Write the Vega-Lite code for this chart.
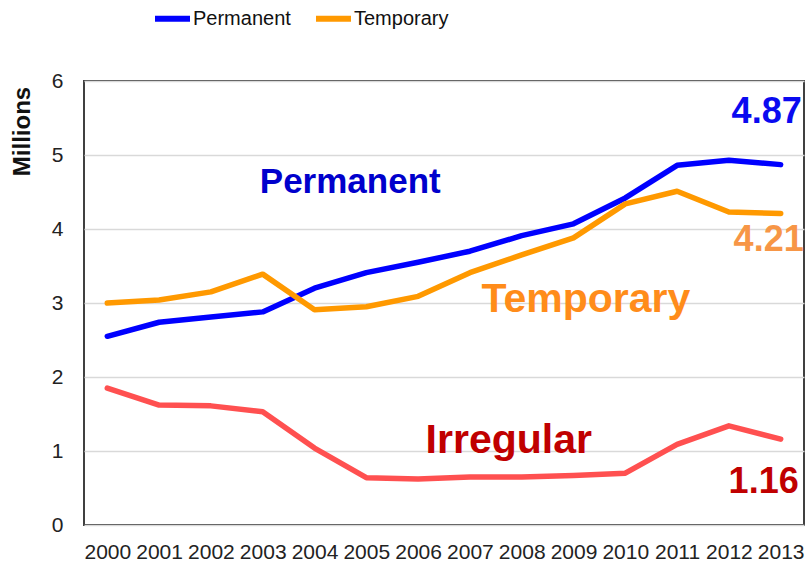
{
  "$schema": "https://vega.github.io/schema/vega-lite/v6.json",
  "width": 720,
  "height": 444,
  "autosize": "none",
  "padding": {"left": 84, "top": 81, "right": 2, "bottom": 39},
  "background": "white",
  "config": {
    "view": {"stroke": "#404040", "strokeWidth": 2},
    "font": "Liberation Sans"
  },
  "datasets": {
    "series": [
      {"year": 2000, "series": "Permanent", "value": 2.55},
      {"year": 2001, "series": "Permanent", "value": 2.74},
      {"year": 2002, "series": "Permanent", "value": 2.81},
      {"year": 2003, "series": "Permanent", "value": 2.88},
      {"year": 2004, "series": "Permanent", "value": 3.2},
      {"year": 2005, "series": "Permanent", "value": 3.41},
      {"year": 2006, "series": "Permanent", "value": 3.55},
      {"year": 2007, "series": "Permanent", "value": 3.7},
      {"year": 2008, "series": "Permanent", "value": 3.91},
      {"year": 2009, "series": "Permanent", "value": 4.07},
      {"year": 2010, "series": "Permanent", "value": 4.42},
      {"year": 2011, "series": "Permanent", "value": 4.86},
      {"year": 2012, "series": "Permanent", "value": 4.93},
      {"year": 2013, "series": "Permanent", "value": 4.87},
      {"year": 2000, "series": "Temporary", "value": 3.0},
      {"year": 2001, "series": "Temporary", "value": 3.04},
      {"year": 2002, "series": "Temporary", "value": 3.15},
      {"year": 2003, "series": "Temporary", "value": 3.39},
      {"year": 2004, "series": "Temporary", "value": 2.91},
      {"year": 2005, "series": "Temporary", "value": 2.95},
      {"year": 2006, "series": "Temporary", "value": 3.09},
      {"year": 2007, "series": "Temporary", "value": 3.41},
      {"year": 2008, "series": "Temporary", "value": 3.65},
      {"year": 2009, "series": "Temporary", "value": 3.88},
      {"year": 2010, "series": "Temporary", "value": 4.34},
      {"year": 2011, "series": "Temporary", "value": 4.51},
      {"year": 2012, "series": "Temporary", "value": 4.23},
      {"year": 2013, "series": "Temporary", "value": 4.21},
      {"year": 2000, "series": "Irregular", "value": 1.85},
      {"year": 2001, "series": "Irregular", "value": 1.62},
      {"year": 2002, "series": "Irregular", "value": 1.61},
      {"year": 2003, "series": "Irregular", "value": 1.53},
      {"year": 2004, "series": "Irregular", "value": 1.04},
      {"year": 2005, "series": "Irregular", "value": 0.64},
      {"year": 2006, "series": "Irregular", "value": 0.62},
      {"year": 2007, "series": "Irregular", "value": 0.65},
      {"year": 2008, "series": "Irregular", "value": 0.65},
      {"year": 2009, "series": "Irregular", "value": 0.67},
      {"year": 2010, "series": "Irregular", "value": 0.7},
      {"year": 2011, "series": "Irregular", "value": 1.09},
      {"year": 2012, "series": "Irregular", "value": 1.34},
      {"year": 2013, "series": "Irregular", "value": 1.16}
    ],
    "notes": [
      {"label": "Permanent", "year": 2004.69, "value": 4.49},
      {"label": "Temporary", "year": 2009.24, "value": 2.88},
      {"label": "Irregular", "year": 2007.75, "value": 0.97}
    ]
  },
  "layer": [
    {
      "data": {"name": "series"},
      "mark": {"type": "line", "strokeWidth": 5.5, "strokeCap": "round", "strokeJoin": "round"},
      "encoding": {
        "x": {
          "field": "year", "type": "quantitative",
          "scale": {"domain": [1999.55, 2013.45], "nice": false, "zero": false},
          "axis": {
            "values": [2000, 2001, 2002, 2003, 2004, 2005, 2006, 2007, 2008, 2009, 2010, 2011, 2012, 2013],
            "format": "d", "grid": false, "domain": false, "ticks": false,
            "labelFontSize": 21, "labelPadding": 16, "labelColor": "#222", "title": null
          }
        },
        "y": {
          "field": "value", "type": "quantitative",
          "scale": {"domain": [0, 6], "nice": false},
          "axis": {
            "values": [0, 1, 2, 3, 4, 5, 6], "format": "d",
            "grid": true, "gridColor": "#d9d9d9", "gridWidth": 1.5,
            "domain": false, "ticks": false,
            "labelFontSize": 21, "labelPadding": 21, "labelColor": "#222",
            "title": "Millions", "titleFontSize": 24, "titleFontWeight": "bold", "titleColor": "#111",
            "titleX": -62, "titleY": 50, "titleAngle": 270, "titleAlign": "center", "titleBaseline": "middle"
          }
        },
        "color": {
          "field": "series", "type": "nominal",
          "scale": {"domain": ["Permanent", "Temporary", "Irregular"], "range": ["#0000FF", "#FF9900", "#FF5050"]},
          "legend": {
            "values": ["Permanent", "Temporary"],
            "orient": "none", "legendX": 68, "legendY": -83,
            "direction": "horizontal", "title": null, "padding": 0,
            "symbolType": "stroke", "symbolSize": 1225, "symbolStrokeWidth": 6,
            "labelFontSize": 20, "labelOffset": 0, "columnPadding": 13, "labelColor": "#111"
          }
        }
      }
    },
    {
      "data": {"name": "notes"},
      "transform": [{"filter": "datum.label === 'Permanent'"}],
      "mark": {"type": "text", "fontSize": 35, "fontWeight": "bold", "color": "#0000CC", "align": "center", "baseline": "alphabetic"},
      "encoding": {
        "x": {"field": "year", "type": "quantitative"},
        "y": {"field": "value", "type": "quantitative"},
        "text": {"field": "label"}
      }
    },
    {
      "data": {"name": "notes"},
      "transform": [{"filter": "datum.label === 'Temporary'"}],
      "mark": {"type": "text", "fontSize": 41, "fontWeight": "bold", "color": "#FF8C1A", "align": "center", "baseline": "alphabetic"},
      "encoding": {
        "x": {"field": "year", "type": "quantitative"},
        "y": {"field": "value", "type": "quantitative"},
        "text": {"field": "label"}
      }
    },
    {
      "data": {"name": "notes"},
      "transform": [{"filter": "datum.label === 'Irregular'"}],
      "mark": {"type": "text", "fontSize": 41, "fontWeight": "bold", "color": "#C00000", "align": "center", "baseline": "alphabetic"},
      "encoding": {
        "x": {"field": "year", "type": "quantitative"},
        "y": {"field": "value", "type": "quantitative"},
        "text": {"field": "label"}
      }
    },
    {
      "data": {"name": "series"},
      "transform": [{"filter": "datum.year === 2013 && datum.series === 'Permanent'"}],
      "mark": {"type": "text", "fontSize": 36, "fontWeight": "bold", "color": "#0A0AF0", "align": "right", "baseline": "alphabetic", "dx": 21, "dy": -42},
      "encoding": {
        "x": {"field": "year", "type": "quantitative"},
        "y": {"field": "value", "type": "quantitative"},
        "text": {"field": "value", "format": ".2f"}
      }
    },
    {
      "data": {"name": "series"},
      "transform": [{"filter": "datum.year === 2013 && datum.series === 'Temporary'"}],
      "mark": {"type": "text", "fontSize": 36, "fontWeight": "bold", "color": "#F79646", "align": "right", "baseline": "alphabetic", "dx": 23, "dy": 38},
      "encoding": {
        "x": {"field": "year", "type": "quantitative"},
        "y": {"field": "value", "type": "quantitative"},
        "text": {"field": "value", "format": ".2f"}
      }
    },
    {
      "data": {"name": "series"},
      "transform": [{"filter": "datum.year === 2013 && datum.series === 'Irregular'"}],
      "mark": {"type": "text", "fontSize": 36, "fontWeight": "bold", "color": "#C00000", "align": "right", "baseline": "alphabetic", "dx": 18, "dy": 54},
      "encoding": {
        "x": {"field": "year", "type": "quantitative"},
        "y": {"field": "value", "type": "quantitative"},
        "text": {"field": "value", "format": ".2f"}
      }
    }
  ]
}
